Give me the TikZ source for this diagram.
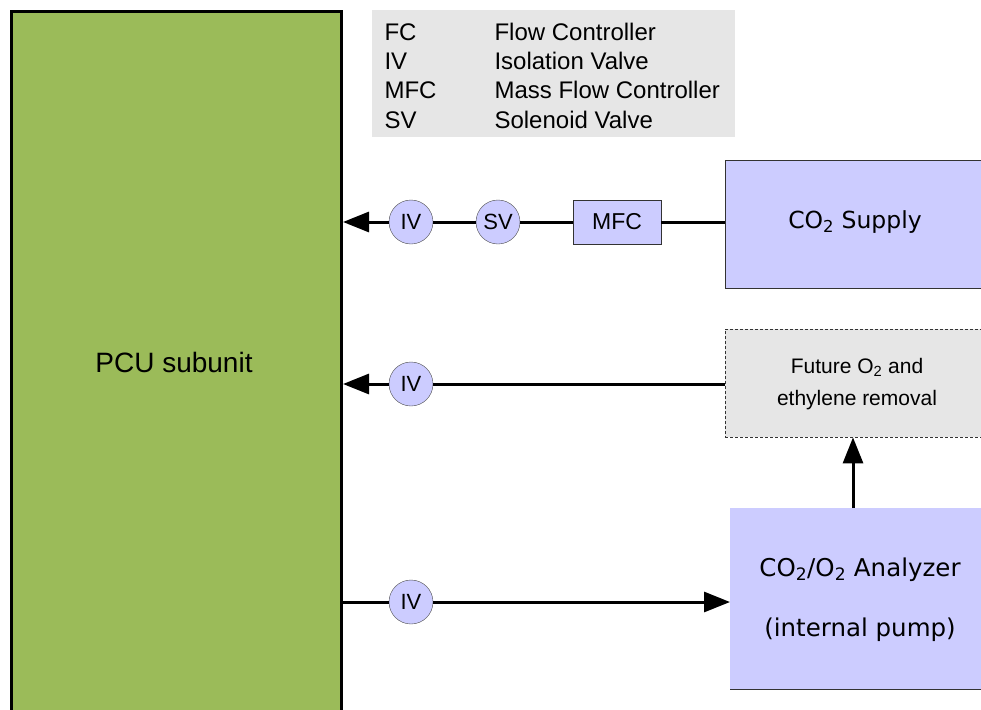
\documentclass[tikz,border=0pt]{standalone}
\usepackage{fontspec}
\setmainfont{Liberation Sans}
\newfontfamily\dejavu{DejaVu Sans}
\usetikzlibrary{arrows.meta}
\definecolor{pcuG}{HTML}{9BBB59}
\definecolor{lav}{HTML}{CCCCFF}
\definecolor{lgray}{HTML}{E6E6E6}

\tikzset{
  flow/.style={line width=3pt},
  tip/.style={-{Triangle[length=26pt,width=20pt]}},
  valve/.style={circle,draw=black!70,fill=lav,minimum size=44pt,inner sep=0pt,font=\fontsize{22}{24}\selectfont},
  unit/.style={draw=black!80,fill=lav,inner sep=0pt},
}

\begin{document}
\begin{tikzpicture}[x=1pt,y=-1pt]
  \useasboundingbox (0,0) rectangle (981,709);

  % PCU block and legend
  \node[draw=black,line width=3pt,fill=pcuG,minimum width=330pt,minimum height=710pt,anchor=north west] (pcu) at (10,10) {};
  \node[font=\fontsize{28}{32}\selectfont] at (174,362) {PCU subunit};
  \fill[lgray] (372,10) rectangle (735,137);
  \foreach \y/\ab/\txt in {32/FC/Flow Controller,61/IV/Isolation Valve,90/MFC/Mass Flow Controller,120/SV/Solenoid Valve}{
    \node[anchor=west,font=\fontsize{24}{26}\selectfont] at (381,\y) {\ab};
    \node[anchor=west,font=\fontsize{24}{26}\selectfont] at (491,\y) {\txt};
  }

  % right hand units
  \node[unit,minimum width=270pt,minimum height=128pt,anchor=north west] (sup) at (725,160) {};
  \node[font=\dejavu\fontsize{23.5}{26}\selectfont] at (855,222) {CO\textsubscript{2} Supply};
  \node[draw=black!80,densely dashed,fill=lgray,minimum width=270pt,minimum height=108pt,anchor=north west] (fut) at (725,329) {};
  \node[font=\fontsize{21}{32}\selectfont,align=center] at (857,384) {Future O\textsubscript{2} and\\ethylene removal};
  \fill[lav] (730,508) rectangle (990,689);
  \draw[black!80,line width=1pt] (730,689) -- (990,689);
  \coordinate (ana) at (730,602);
  \coordinate (anatop) at (853,508);
  \node[font=\dejavu\fontsize{24.5}{28}\selectfont] at (860,570) {CO\textsubscript{2}/O\textsubscript{2} Analyzer};
  \node[font=\dejavu\fontsize{24.5}{28}\selectfont] at (860,630) {(internal pump)};

  % CO2 feed line
  \node[valve] (iv1) at (411,222) {IV};
  \node[valve] (sv) at (498,222) {SV};
  \node[unit,minimum width=88pt,minimum height=44pt,font=\fontsize{23}{25}\selectfont] (mfc) at (617,222) {MFC};
  \draw[flow] (sup.west |- mfc) -- (mfc);
  \draw[flow] (mfc) -- (sv);
  \draw[flow] (sv) -- (iv1);
  \draw[flow,tip] (iv1) -- (iv1 -| pcu.east);

  % future removal line
  \node[valve] (iv2) at (411,384) {IV};
  \draw[flow] (fut.west |- iv2) -- (iv2);
  \draw[flow,tip] (iv2) -- (iv2 -| pcu.east);

  % analyzer line
  \node[valve] (iv3) at (411,602) {IV};
  \draw[flow] (iv3 -| pcu.east) -- (iv3);
  \draw[flow,tip] (iv3) -- (ana);
  \draw[flow,tip] (anatop) -- (anatop |- fut.south);
\end{tikzpicture}
\end{document}
